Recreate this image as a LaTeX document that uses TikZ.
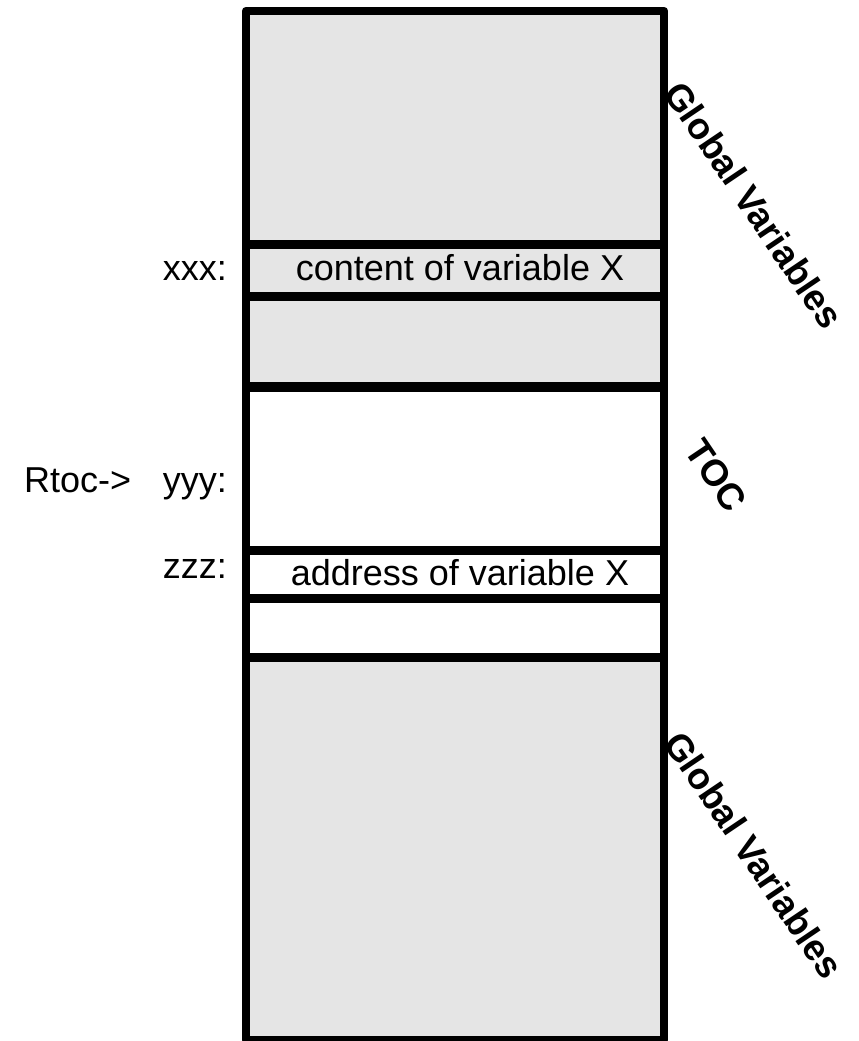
\documentclass[tikz,border=0pt]{standalone}
\usepackage{fontspec}
\setmainfont{Liberation Sans}
\begin{document}
\begin{tikzpicture}[x=1pt,y=-1pt,
  wall/.style={line width=8.5pt,line join=round},
  sep/.style={line width=9pt},
  lbl/.style={font=\fontsize{36}{40}\selectfont,inner sep=0pt},
  side/.style={font=\bfseries\fontsize{37}{40}\selectfont,inner sep=0pt,rotate=-56}]
\useasboundingbox (0,0) rectangle (859,1041);
\fill[white] (0,0) rectangle (859,1041);
% regions
\fill[black!10] (246,11) rectangle (664,387);
\fill[white] (246,387) rectangle (664,657);
\fill[black!10] (246,657) rectangle (664,1040);
% separators
\coordinate (l1) at (246,244.5); \coordinate (r1) at (664,244.5);
\coordinate (l2) at (246,296); \coordinate (r2) at (664,296);
\coordinate (l3) at (246,387); \coordinate (r3) at (664,387);
\coordinate (l4) at (246,550); \coordinate (r4) at (664,550);
\coordinate (l5) at (246,598); \coordinate (r5) at (664,598);
\coordinate (l6) at (246,657.5); \coordinate (r6) at (664,657.5);
\draw[sep] (l1) -- (r1);
\draw[sep] (l2) -- (r2);
\draw[sep,line width=10pt] (l3) -- (r3);
\draw[sep] (l4) -- (r4);
\draw[sep] (l5) -- (r5);
\draw[sep] (l6) -- (r6);
\draw[wall] (246,11) rectangle (664,1040);
% texts
\node[lbl,anchor=base east] (xxx) at (227,280) {xxx:};
\node[lbl,anchor=base] (cx) at (460,280) {content of variable X};
\node[lbl,anchor=base west] (rtoc) at (24,492) {Rtoc->};
\node[lbl,anchor=base east] (yyy) at (227,492) {yyy:};
\node[lbl,anchor=base east] (zzz) at (227,578) {zzz:};
\node[lbl,anchor=base] (ax) at (460,585) {address of variable X};
\node[side] (gv1) at (754,205) {Global Variables};
\node[side] (toc) at (716,475) {TOC};
\node[side] (gv2) at (754,855) {Global Variables};
\end{tikzpicture}
\end{document}
